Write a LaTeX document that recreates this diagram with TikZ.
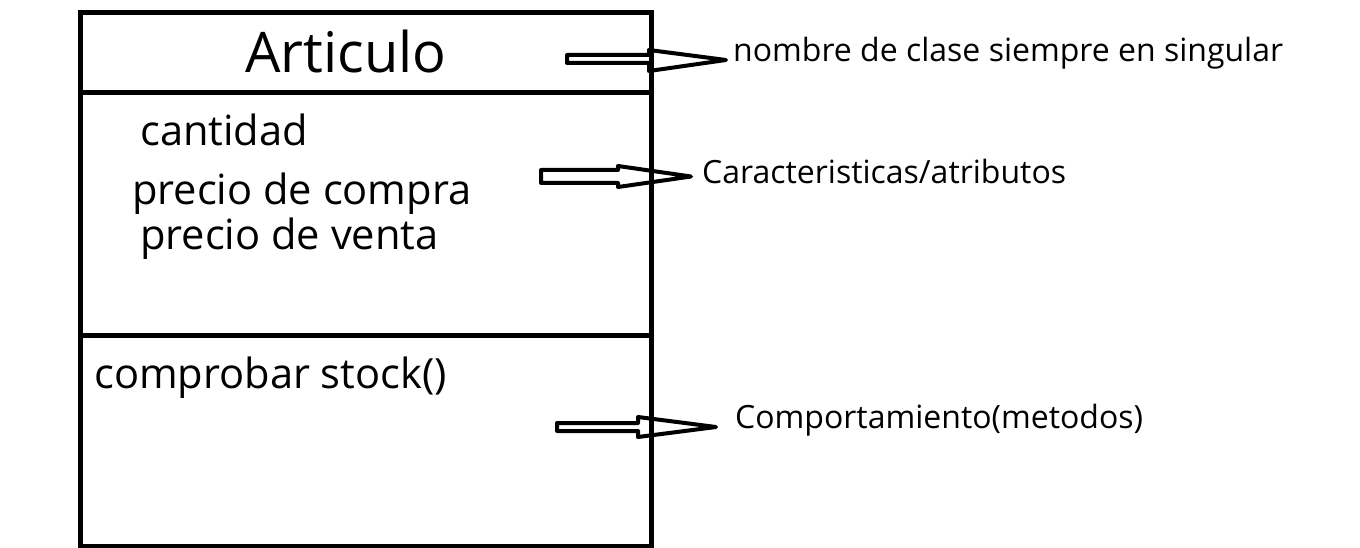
\documentclass[tikz,border=0pt]{standalone}
\usepackage{fontspec}
\setmainfont{Open Sans}

\begin{document}
\begin{tikzpicture}[x=1pt,y=-1pt]
            \tikzset{titletext/.style = {anchor=base, inner sep=0pt, font=\fontsize{56}{67}\selectfont}}
            \tikzset{bigtext/.style = {anchor=base west, inner sep=0pt, font=\fontsize{41.6}{50}\selectfont}}
            \tikzset{notetext/.style = {anchor=base west, inner sep=0pt, font=\fontsize{32}{38}\selectfont}}
            \tikzset{hollowarrow/.style = {draw=black, line width=4pt, line join=round}}
            \useasboundingbox (0,0) rectangle (1360,548);
            
            % class box
            \coordinate (boxnw) at (80.5,12.5);
            \coordinate (boxse) at (651.5,546);
            \coordinate (sepAw) at (80.5,92.5);
            \coordinate (sepAe) at (651.5,92.5);
            \coordinate (sepBw) at (80.5,335);
            \coordinate (sepBe) at (651.5,335);
            \draw[line width=5pt] (boxnw) rectangle (boxse);
            \draw[line width=5pt] (sepAw)--(sepAe);
            \draw[line width=5pt] (sepBw)--(sepBe);
            
            \node[titletext] (nombre) at (346,73) {Articulo};
            \node[bigtext] (cantidad) at (140,146) {cantidad};
            \node[bigtext] (compra) at (132,205) {precio de compra};
            \node[bigtext] (venta) at (140,250) {precio de venta};
            \node[bigtext] (stock) at (94,388) {comprobar stock()};
            
            % arrows
            \draw[hollowarrow] (567,55)--(649,55)--(649,50)--(726,60)--(649,71)--(649,63)--(567,63)--cycle;
            \draw[hollowarrow] (541,170)--(618,170)--(618,166)--(691,176.5)--(618,187)--(618,183)--(541,183)--cycle;
            \draw[hollowarrow] (557,423)--(638,423)--(638,417)--(716,427)--(638,437)--(638,431)--(557,431)--cycle;
            
            \node[notetext] (notaClase) at (733,62) {nombre de clase siempre en singular};
            \node[notetext] (notaAtrib) at (702,184) {Caracteristicas/atributos};
            \node[notetext] (notaMetod) at (735,428) {Comportamiento(metodos)};
            
        \end{tikzpicture}
\end{document}
